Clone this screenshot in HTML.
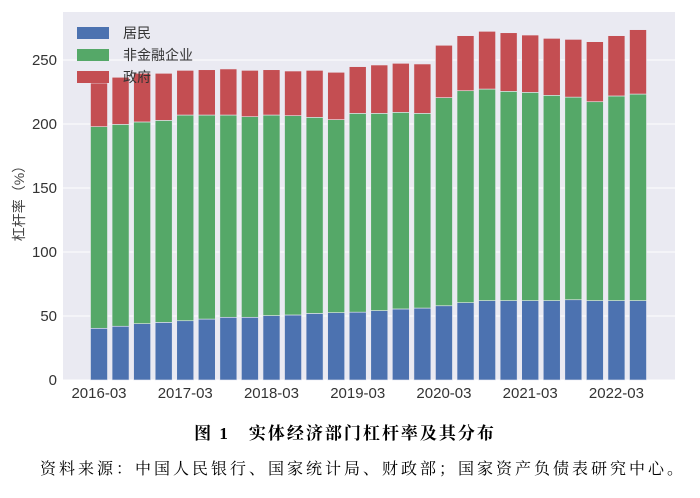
<!DOCTYPE html>
<html><head><meta charset="utf-8"><style>
body{margin:0;background:#fff;width:700px;height:493px;overflow:hidden}
svg text{font-family:"Liberation Sans","Noto Sans CJK SC",sans-serif}
</style></head><body>
<svg width="700" height="493" id="chart">
<rect x="63" y="12" width="612" height="368" fill="#eaeaf2"/>
<g id="grid"></g><g id="bars"></g><g id="axes"></g>
<text x="0" y="0" transform="translate(24,200) rotate(-90)" text-anchor="middle" font-size="14" fill="#444">杠杆率（%）</text>
<g>
<rect x="77" y="27" width="32" height="12" fill="#4c72b0"/>
<text x="123" y="38" font-size="14" fill="#333">居民</text>
<rect x="77" y="49" width="32" height="12" fill="#55a868"/>
<text x="123" y="60" font-size="14" fill="#333">非金融企业</text>
<rect x="77" y="71" width="32" height="12" fill="#c44e52"/>
<text x="123" y="82" font-size="14" fill="#333">政府</text>
</g>
<text x="345" y="439" text-anchor="middle" font-size="17" font-weight="bold" letter-spacing="2" style="font-family:'Liberation Serif','Noto Serif CJK SC',serif" fill="#000">图 1　实体经济部门杠杆率及其分布</text>
<text x="363" y="474" text-anchor="middle" font-size="16" letter-spacing="3" style="font-family:'Liberation Serif','Noto Serif CJK SC',serif" fill="#000">资料来源：中国人民银行、国家统计局、财政部；国家资产负债表研究中心。</text>
</svg>
<script>
const categories=["2016-03","2016-06","2016-09","2016-12","2017-03","2017-06","2017-09","2017-12","2018-03","2018-06","2018-09","2018-12","2019-03","2019-06","2019-09","2019-12","2020-03","2020-06","2020-09","2020-12","2021-03","2021-06","2021-09","2021-12","2022-03","2022-06"];
const household=[40.4,42,44,45,46.3,47.6,49,49,50.3,50.8,52,52.6,53,54.2,55.5,56.2,58,60.4,62,62,62,62,62.7,62,62,62];
const nonfinancial=[157.5,157.7,157.6,157.8,160.7,159.4,158,156.7,156.7,155.7,153.2,150.8,155.3,154.1,153.6,152.1,162.6,165.6,165.3,163.5,162.7,160.4,158.3,155.4,159.9,161.4];
const government=[34.1,36.8,38,36.8,34.9,35.4,36,36.2,35.4,34.9,36.7,37,36.5,37.8,38.3,38.6,40.9,43,45.1,45.8,44.8,44.5,45.1,46.9,47.1,50.3];
const yTicks=[0,50,100,150,200,250];
const xTickLabels=["2016-03","2017-03","2018-03","2019-03","2020-03","2021-03","2022-03"];
const NS="http://www.w3.org/2000/svg";
const y=v=>380-v*1.28;
const x=i=>99+i*21.56;
const bw=17;
function mk(t,a,p){const e=document.createElementNS(NS,t);for(const k in a)e.setAttribute(k,a[k]);p.appendChild(e);return e;}
const grid=document.getElementById('grid'),bars=document.getElementById('bars'),axes=document.getElementById('axes');
yTicks.forEach(v=>{
 const l=mk('line',{x1:63,x2:675,y1:y(v),y2:y(v),stroke:'#fff','stroke-width':1},grid);
 
 
 const t=mk('text',{x:57,y:y(v)+5,'text-anchor':'end','font-size':15,fill:'#333'},axes);
 t.textContent=v;
 
 
});
xTickLabels.forEach(lab=>{
 const i=categories.indexOf(lab);
 const t=mk('text',{x:x(i),y:398,'text-anchor':'middle','font-size':15,fill:'#333'},axes);
 t.textContent=lab;
 
 
});
const series=[[household,'#4c72b0','household'],[nonfinancial,'#55a868','nonfin'],[government,'#c44e52','gov']];
categories.forEach((c,i)=>{
 let base=0;
 series.forEach(([arr,col,nm])=>{
  const v=arr[i];
  const r=mk('rect',{x:x(i)-bw/2,y:y(base+v),width:bw,height:v*1.28,fill:col,stroke:'#eaeaf2','stroke-width':0.6},bars);
  
  
  base+=v;
 });
});
</script>
</body></html>
